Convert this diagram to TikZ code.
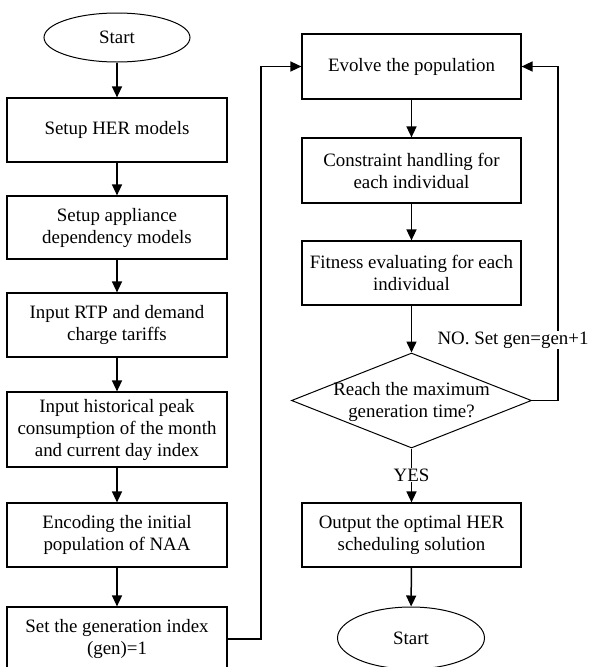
\documentclass[tikz,border=0pt]{standalone}
\usepackage{fontspec}
\setmainfont{Liberation Serif}
\usetikzlibrary{shapes.geometric,arrows.meta}
\begin{document}
\begin{tikzpicture}[x=1pt,y=-1pt,
  every node/.style={font=\fontsize{18.9}{22}\selectfont, inner sep=0pt},
  box/.style={draw, line width=1.2pt, minimum width=220pt, minimum height=64pt, align=center},
  oval/.style={draw, ellipse, line width=1pt, minimum width=146pt, minimum height=49pt},
  dia/.style={draw, diamond, aspect=2.5, line width=1pt, minimum width=240pt, minimum height=95pt, align=center},
  conn/.style={line width=1.5pt, -{Triangle[length=11pt,width=10pt]}},
  lbl/.style={fill=white, inner sep=1pt}]
\useasboundingbox (0,0) rectangle (589,667);
% left column
\node[oval] (start) at (117,37.5) {Start};
\node[box] (b1) at (117,130) {Setup HER models};
\node[box, minimum height=63pt] (b2) at (117,227.5) {Setup appliance\\dependency models};
\node[box] (b3) at (117,325) {Input RTP and demand\\charge tariffs};
\node[box, minimum height=75pt] (b4) at (117,429.5) {Input historical peak\\consumption of the month\\and current day index};
\node[box] (b5) at (117,535) {Encoding the initial\\population of NAA};
\node[box] (b6) at (117,639) {Set the generation index\\(gen)=1};
% right column
\node[box, minimum width=219pt, minimum height=65pt] (r1) at (411.5,66.5) {Evolve the population};
\node[box, minimum width=219pt, minimum height=65pt] (r2) at (411.5,170.5) {Constraint handling for\\each individual};
\node[box, minimum width=219pt] (r3) at (411.5,273) {Fitness evaluating for each\\individual};
\node[dia] (d) at (411.5,400.5) {};
\node[align=center] (dt) at (411.5,402) {Reach the maximum\\generation time?};
\node[box, minimum width=219pt] (r4) at (411.5,535) {Output the optimal HER\\scheduling solution};
\node[oval, minimum width=147pt, minimum height=62pt] (end) at (411,638) {Start};
% connectors left
\draw[conn] (start) -- (b1);
\draw[conn] (b1) -- (b2);
\draw[conn] (b2) -- (b3);
\draw[conn] (b3) -- (b4);
\draw[conn] (b4) -- (b5);
\draw[conn] (b5) -- (b6);
\coordinate (c1) at (261,639);
\coordinate (c2) at (261,66.5);
\draw[conn] (b6.east) -- (c1) -- (c2) -- (r1.west);
% connectors right
\draw[conn] (r1) -- (r2);
\draw[conn] (r2) -- (r3);
\draw[conn] (r3) -- (d.north);
\coordinate (c3) at (558,400.5);
\coordinate (c4) at (558,66.5);
\draw[conn] (d.east) -- (c3) -- (c4) -- (r1.east);
\node[lbl] (no) at (513,340) {NO. Set gen=gen+1};
\draw[conn] (d.south) -- (r4.north);
\node[lbl] (yes) at (411.5,475) {YES};
\draw[conn] (r4) -- (end);
\end{tikzpicture}
\end{document}
